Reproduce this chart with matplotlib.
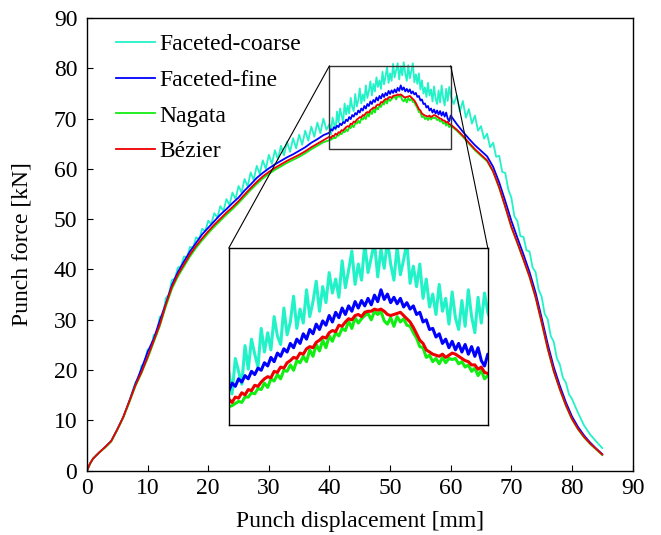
import numpy as np
import matplotlib
matplotlib.use('Agg')
import matplotlib.pyplot as plt
from matplotlib.patches import Rectangle, ConnectionPatch

plt.rcParams['font.family'] = ['Liberation Serif', 'DejaVu Serif']

# Displacement samples: coarse outside the zoom window, fine inside it
x_left = np.r_[0, 0.5, np.arange(1, 40)]
x_zoom = np.arange(40, 60.001, 0.25)
x_right = np.arange(61, 86)
xc_left = np.r_[0, 0.5, np.arange(1, 9), np.arange(8.5, 40, 0.5)]
xc_right = np.r_[np.arange(60.5, 80.001, 0.5), np.arange(81, 86)]

# Faceted-coarse
coarse_left = [0.0, 1.4, 2.4, 3.6, 4.7, 5.9, 8.2, 10.7, 13.9, 17.6,
               18.2, 20.9, 21.3, 24.1, 24.0, 27.0, 27.1, 30.6, 30.8, 34.3,
               35.0, 37.9, 38.2, 40.4, 40.6, 42.6, 42.4, 44.5, 44.3, 46.4,
               46.0, 48.1, 47.6, 49.7, 49.0, 51.2, 50.3, 52.6, 51.6, 54.0,
               52.8, 55.3, 54.0, 56.6, 55.3, 58.0, 56.5, 59.3, 57.8, 60.6,
               59.0, 61.7, 60.0, 62.8, 61.0, 63.7, 61.9, 64.6, 62.7, 65.4,
               63.4, 66.1, 64.1, 66.8, 64.8, 67.6, 65.6, 68.4, 66.4, 69.2,
               67.1, 70.0, 67.8]
coarse_zoom = [68.9, 66.9, 70.2, 69.0, 67.8, 71.4, 69.2, 72.0, 70.6, 69.4,
               73.0, 70.8, 72.6, 71.0, 74.1, 72.3, 71.5, 74.9, 72.4, 73.6,
               76.0, 73.0, 74.8, 73.5, 76.6, 74.1, 75.5, 77.4, 74.6, 76.9,
               75.4, 78.2, 76.3, 77.6, 75.9, 79.3, 76.8, 78.4, 80.2, 77.1,
               79.0, 77.5, 80.9, 78.2, 79.6, 81.0, 77.8, 80.4, 78.6, 81.2,
               79.0, 77.5, 80.6, 78.0, 79.4, 81.0, 77.2, 78.8, 76.9, 79.0,
               75.8, 77.6, 75.0, 76.2, 74.3, 77.1, 74.6, 75.8, 73.4, 76.4,
               74.0, 72.9, 75.6, 73.2, 76.6, 74.1, 72.6, 75.9, 73.5, 76.3,
               74.5]
coarse_right = [72.9, 74.6, 71.4, 73.5, 70.2, 71.9, 69.0, 70.6, 67.6, 68.5,
                66.0, 67.0, 64.3, 65.2, 62.4, 62.6, 59.4, 59.2, 55.9, 54.3,
                50.6, 49.6, 46.6, 46.5, 43.8, 43.6, 40.4, 39.5, 36.0, 34.6,
                31.2, 30.1, 26.8, 25.6, 22.4, 21.1, 18.5, 17.5, 15.2, 14.3,
                11.5, 9.0, 7.2, 5.8, 4.5]

# Faceted-fine
fine_left = [0.0, 1.4, 2.4, 3.6, 4.7, 5.9, 8.2, 10.7, 13.9, 17.3,
             20.3, 23.6, 26.2, 29.8, 33.2, 36.9, 39.5, 41.6, 43.6, 45.3,
             47.0, 48.3, 49.6, 50.9, 52.0, 53.2, 54.3, 55.7, 56.9, 58.2,
             59.2, 60.1, 60.9, 61.6, 62.3, 62.9, 63.6, 64.3, 65.2, 65.9,
             66.7]
fine_zoom = [67.2, 67.9, 67.6, 68.3, 68.0, 68.6, 68.3, 69.0, 68.7, 69.3,
             69.1, 69.8, 69.5, 70.3, 69.9, 70.7, 70.4, 71.1, 70.8, 71.6,
             71.2, 72.0, 71.6, 72.5, 72.0, 72.9, 72.5, 73.4, 72.9, 73.7,
             73.3, 74.2, 73.6, 74.5, 74.0, 74.9, 74.3, 75.1, 74.6, 75.5,
             74.9, 75.6, 75.1, 75.8, 75.2, 76.1, 75.5, 76.6, 75.7, 76.2,
             75.4, 75.9, 75.3, 75.8, 75.0, 75.4, 74.8, 75.1, 74.3, 74.5,
             73.6, 73.8, 72.9, 73.0, 72.2, 72.5, 71.6, 72.0, 71.2, 71.8,
             71.0, 71.6, 70.8, 71.5, 70.6, 71.3, 70.4, 71.2, 70.0, 69.5,
             70.6]
fine_right = [68.9, 67.4, 66.0, 64.7, 63.6, 62.5, 60.4, 57.3, 53.6, 49.7,
              46.3, 43.0, 39.5, 35.4, 30.4, 25.2, 20.6, 16.9, 13.6, 10.8,
              8.7, 7.0, 5.6, 4.4, 3.3]

# Nagata
nagata_left = [0.0, 1.4, 2.4, 3.6, 4.6, 5.8, 8.1, 10.6, 13.6, 16.8,
               19.4, 22.3, 25.5, 28.7, 32.6, 36.1, 38.6, 40.6, 42.6, 44.3,
               45.8, 47.2, 48.5, 49.7, 50.9, 52.0, 53.2, 54.5, 55.8, 57.0,
               58.1, 59.0, 59.8, 60.5, 61.2, 61.8, 62.4, 63.1, 63.9, 64.6,
               65.3]
nagata_zoom = [65.7, 65.8, 66.0, 66.2, 66.1, 66.6, 66.6, 67.0, 66.9, 67.4,
               67.3, 67.9, 67.5, 68.3, 68.1, 68.7, 68.3, 69.1, 69.0, 69.6,
               69.1, 70.0, 69.8, 70.4, 69.9, 71.0, 70.4, 71.5, 70.9, 71.9,
               71.2, 72.3, 71.8, 72.6, 72.3, 73.0, 72.8, 73.7, 73.0, 74.0,
               73.5, 73.9, 74.2, 74.4, 73.8, 74.6, 74.3, 74.6, 73.7, 73.4,
               74.0, 73.2, 74.1, 73.6, 73.9, 73.3, 73.2, 72.6, 72.1, 71.3,
               71.2, 70.3, 70.5, 69.9, 70.2, 69.7, 70.3, 69.8, 70.2, 70.1,
               70.2, 69.7, 69.9, 69.4, 69.6, 69.0, 69.3, 68.6, 69.1, 68.3,
               68.6]
nagata_right = [67.6, 66.4, 65.0, 63.7, 62.6, 61.5, 59.4, 56.2, 52.4, 48.4,
                45.2, 41.9, 38.5, 34.4, 29.4, 24.2, 19.7, 16.1, 12.9, 10.2,
                8.2, 6.6, 5.3, 4.2, 3.1]

# Bezier
bezier_left = [0.0, 1.4, 2.4, 3.6, 4.7, 5.9, 8.2, 10.7, 13.8, 17.0,
               19.6, 22.6, 25.8, 29.0, 33.0, 36.5, 39.0, 41.0, 43.0, 44.7,
               46.2, 47.6, 48.9, 50.1, 51.3, 52.4, 53.6, 54.9, 56.2, 57.4,
               58.5, 59.4, 60.2, 60.9, 61.6, 62.2, 62.8, 63.5, 64.3, 65.0,
               65.7]
bezier_zoom = [66.4, 66.1, 66.6, 66.5, 67.0, 66.8, 67.3, 67.2, 67.7, 67.6,
               68.0, 68.3, 68.5, 68.4, 69.0, 68.9, 69.4, 69.3, 69.8, 70.0,
               70.3, 70.2, 70.7, 70.6, 71.1, 71.3, 71.2, 71.7, 71.9, 72.2,
               72.1, 72.6, 72.8, 72.7, 73.3, 73.2, 73.6, 73.9, 73.8, 74.2,
               74.3, 74.1, 74.5, 74.6, 74.6, 74.8, 74.7, 74.8, 74.6, 74.3,
               74.2, 74.3, 74.4, 74.5, 74.2, 73.9, 73.6, 73.1, 72.5, 71.9,
               71.6, 71.0, 70.8, 70.6, 70.5, 70.4, 70.6, 70.3, 70.5, 70.7,
               70.6, 70.4, 70.2, 70.0, 69.9, 69.6, 69.6, 69.2, 69.4, 68.9,
               68.8]
bezier_right = [67.8, 66.6, 65.2, 63.9, 62.8, 61.7, 59.5, 56.3, 52.5, 48.5,
                45.3, 42.0, 38.6, 34.5, 29.5, 24.3, 19.8, 16.2, 13.0, 10.3,
                8.3, 6.7, 5.4, 4.3, 3.2]

labels = ['Faceted-coarse', 'Faceted-fine', 'Nagata', 'Bézier']
colors = ['#22F2C8', '#0000FF', '#11EE11', '#EE0000']

x_all = np.r_[x_left, x_zoom, x_right]
xc_all = np.r_[xc_left, x_zoom, xc_right]
series = [
    (xc_all, coarse_left + coarse_zoom + coarse_right),
    (x_all, fine_left + fine_zoom + fine_right),
    (x_all, nagata_left + nagata_zoom + nagata_right),
    (x_all, bezier_left + bezier_zoom + bezier_right),
]

zoom_x = (40, 60)
zoom_y = (64, 80.5)

fig = plt.figure(figsize=(6.61, 5.35), dpi=100)
ax = fig.add_axes([0.1316, 0.1202, 0.8254, 0.8462])

for (xs, ys), lab, c in zip(series, labels, colors):
    ax.plot(xs, ys, color=c, lw=1.3, label=lab)

ax.set_xlim(0, 90)
ax.set_ylim(0, 90)
ax.set_xticks(np.arange(0, 91, 10))
ax.set_yticks(np.arange(0, 91, 10))
ax.tick_params(direction='in', length=4, labelsize=17, top=False, right=False)
ax.tick_params(axis='x', pad=5)
ax.tick_params(axis='y', pad=7)
for s in ax.spines.values():
    s.set_linewidth(1.0)
ax.set_xlabel('Punch displacement [mm]', fontsize=17, labelpad=9)
ax.set_ylabel('Punch force [kN]', fontsize=17, labelpad=15)

ax.legend(loc='upper left', frameon=False, fontsize=17, handlelength=1.65,
          handletextpad=0.18, labelspacing=0.6, borderaxespad=0.0,
          bbox_to_anchor=(0.036, 0.986))

# zoomed inset
axin = ax.inset_axes([0.260, 0.101, 0.4746, 0.391])
for (xs, ys), c in zip(series, colors):
    axin.plot(xs, ys, color=c, lw=2.2)
axin.set_xlim(*zoom_x)
axin.set_ylim(*zoom_y)
axin.set_xticks([])
axin.set_yticks([])
for s in axin.spines.values():
    s.set_linewidth(1.0)

ax.add_patch(Rectangle((zoom_x[0], zoom_y[0]), zoom_x[1] - zoom_x[0],
                       zoom_y[1] - zoom_y[0], fill=False, ec='#333333', lw=1.0, zorder=5))
for xa, xb in [(zoom_x[0], 0), (zoom_x[1], 1)]:
    con = ConnectionPatch(xyA=(xa, zoom_y[1]), coordsA=ax.transData,
                          xyB=(xb, 1), coordsB=axin.transAxes,
                          color='black', lw=0.8)
    fig.add_artist(con)

fig.savefig('out.png', dpi=100)
